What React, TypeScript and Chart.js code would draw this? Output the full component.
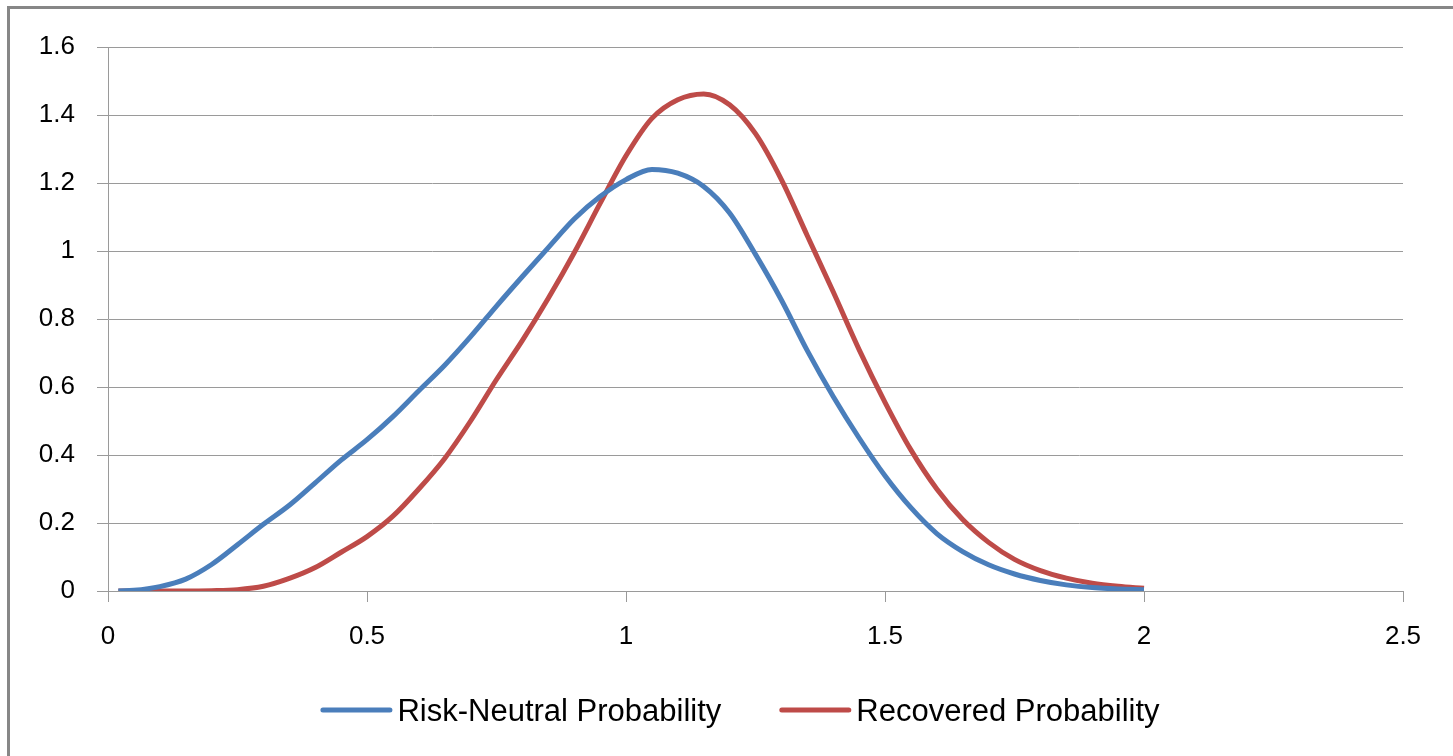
import React, { useEffect, useRef } from "react";
import { Chart, registerables } from "chart.js";

Chart.register(...registerables);

const xValues = [
  0.02, 0.05, 0.1, 0.15, 0.2, 0.25, 0.3, 0.35, 0.4, 0.45, 0.5, 0.55, 0.6, 0.65,
  0.7, 0.75, 0.8, 0.85, 0.9, 0.95, 1.0, 1.05, 1.1, 1.15, 1.2, 1.25, 1.3, 1.35,
  1.4, 1.45, 1.5, 1.55, 1.6, 1.65, 1.7, 1.75, 1.8, 1.85, 1.9, 1.95, 2.0,
];

const riskNeutral = [
  0, 0.002, 0.013, 0.035, 0.078, 0.136, 0.196, 0.252, 0.318, 0.385, 0.445,
  0.513, 0.589, 0.664, 0.748, 0.838, 0.925, 1.01, 1.094, 1.16, 1.21, 1.24,
  1.229, 1.19, 1.112, 0.99, 0.856, 0.707, 0.572, 0.45, 0.339, 0.245, 0.169,
  0.116, 0.077, 0.05, 0.031, 0.018, 0.01, 0.006, 0.004,
];

const recovered = [
  0, 0, 0, 0, 0.001, 0.004, 0.014, 0.037, 0.069, 0.114, 0.16, 0.22, 0.3, 0.39,
  0.5, 0.622, 0.737, 0.861, 0.995, 1.14, 1.28, 1.39, 1.445, 1.462, 1.43,
  1.345, 1.21, 1.045, 0.88, 0.71, 0.555, 0.415, 0.3, 0.21, 0.143, 0.093,
  0.06, 0.038, 0.023, 0.014, 0.008,
];

const xTicks = [0, 0.5, 1, 1.5, 2, 2.5];
const yTicks = [0, 0.2, 0.4, 0.6, 0.8, 1, 1.2, 1.4, 1.6];
const seriesNames = ["Risk-Neutral Probability", "Recovered Probability"];
const seriesColors = ["#4A7EBB", "#BE4B48"];

const FONT = '"Liberation Sans", Arial, sans-serif';
const GRID = "#9a9a9a";

const fmt = (v: number) => String(Number(Number(v).toFixed(1)));

const framePlugin = {
  id: "frame",
  beforeDraw(chart: any) {
    const ctx = chart.ctx;
    ctx.save();
    ctx.fillStyle = "#ffffff";
    ctx.fillRect(0, 0, chart.width, chart.height);
    ctx.fillStyle = "#878787";
    ctx.fillRect(7, 6, 3, chart.height - 6);
    ctx.fillRect(7, 6, chart.width - 7, 3);
    ctx.restore();
  },
};

const legendPlugin = {
  id: "bottomLegend",
  afterDraw(chart: any) {
    const ctx = chart.ctx;
    const items = chart.data.datasets.map((ds: any) => ({
      label: ds.label as string,
      color: ds.borderColor as string,
    }));
    ctx.save();
    ctx.font = `31px ${FONT}`;
    const lineW = 72;
    const gap = 5;
    const itemGap = 58;
    const widths = items.map((it: any) => lineW + gap + ctx.measureText(it.label).width);
    const total =
      widths.reduce((a: number, b: number) => a + b, 0) + itemGap * (items.length - 1);
    let x = 740 - total / 2;
    const yLine = 710;
    items.forEach((it: any, i: number) => {
      ctx.strokeStyle = it.color;
      ctx.lineWidth = 5;
      ctx.lineCap = "round";
      ctx.beginPath();
      ctx.moveTo(x + 2.5, yLine);
      ctx.lineTo(x + lineW - 2.5, yLine);
      ctx.stroke();
      ctx.fillStyle = "#000000";
      ctx.textBaseline = "alphabetic";
      ctx.textAlign = "left";
      ctx.fillText(it.label, x + lineW + gap, 721);
      x += widths[i] + itemGap;
    });
    ctx.restore();
  },
};

export default function App() {
  const canvasRef = useRef<HTMLCanvasElement | null>(null);

  useEffect(() => {
    if (!canvasRef.current) return;
    const chart = new Chart(canvasRef.current, {
      type: "line",
      data: {
        datasets: [
          {
            label: seriesNames[0],
            data: xValues.map((x, i) => ({ x, y: riskNeutral[i] })),
            borderColor: seriesColors[0],
            backgroundColor: seriesColors[0],
            borderWidth: 5,
            pointRadius: 0,
            cubicInterpolationMode: "monotone",
            fill: false,
          },
          {
            label: seriesNames[1],
            data: xValues.map((x, i) => ({ x, y: recovered[i] })),
            borderColor: seriesColors[1],
            backgroundColor: seriesColors[1],
            borderWidth: 5,
            pointRadius: 0,
            cubicInterpolationMode: "monotone",
            fill: false,
          },
        ],
      },
      options: {
        responsive: false,
        animation: false,
        layout: { padding: { top: 47, right: 50, bottom: 0, left: 0 } },
        plugins: {
          legend: { display: false },
          tooltip: { enabled: false },
        },
        scales: {
          x: {
            type: "linear",
            min: 0,
            max: 2.5,
            afterBuildTicks: (s: any) => {
              s.ticks = xTicks.map((v) => ({ value: v }));
            },
            afterFit: (s: any) => {
              s.height = 165;
            },
            ticks: {
              callback: (v: any) => fmt(v),
              font: { family: FONT, size: 26 },
              color: "#000000",
              padding: 19,
              maxRotation: 0,
              autoSkip: false,
            },
            grid: {
              drawOnChartArea: false,
              drawTicks: true,
              tickLength: 11,
              color: GRID,
              lineWidth: 1,
            },
            border: { display: true, color: GRID, width: 1 },
          },
          y: {
            type: "linear",
            min: 0,
            max: 1.6,
            afterBuildTicks: (s: any) => {
              s.ticks = yTicks.map((v) => ({ value: v }));
            },
            afterFit: (s: any) => {
              s.width = 108;
            },
            ticks: {
              callback: (v: any) => fmt(v),
              font: { family: FONT, size: 26 },
              color: "#000000",
              padding: 22,
              autoSkip: false,
            },
            grid: {
              drawOnChartArea: true,
              drawTicks: true,
              tickLength: 11,
              color: GRID,
              lineWidth: 1,
            },
            border: { display: true, color: GRID, width: 1 },
          },
        },
      },
      plugins: [framePlugin, legendPlugin],
    } as any);
    return () => chart.destroy();
  }, []);

  return (
    <div style={{ position: "fixed", left: 0, top: 0, width: 1453, height: 756 }}>
      <canvas
        ref={canvasRef}
        width={1453}
        height={756}
        style={{ display: "block", width: 1453, height: 756 }}
      />
    </div>
  );
}
